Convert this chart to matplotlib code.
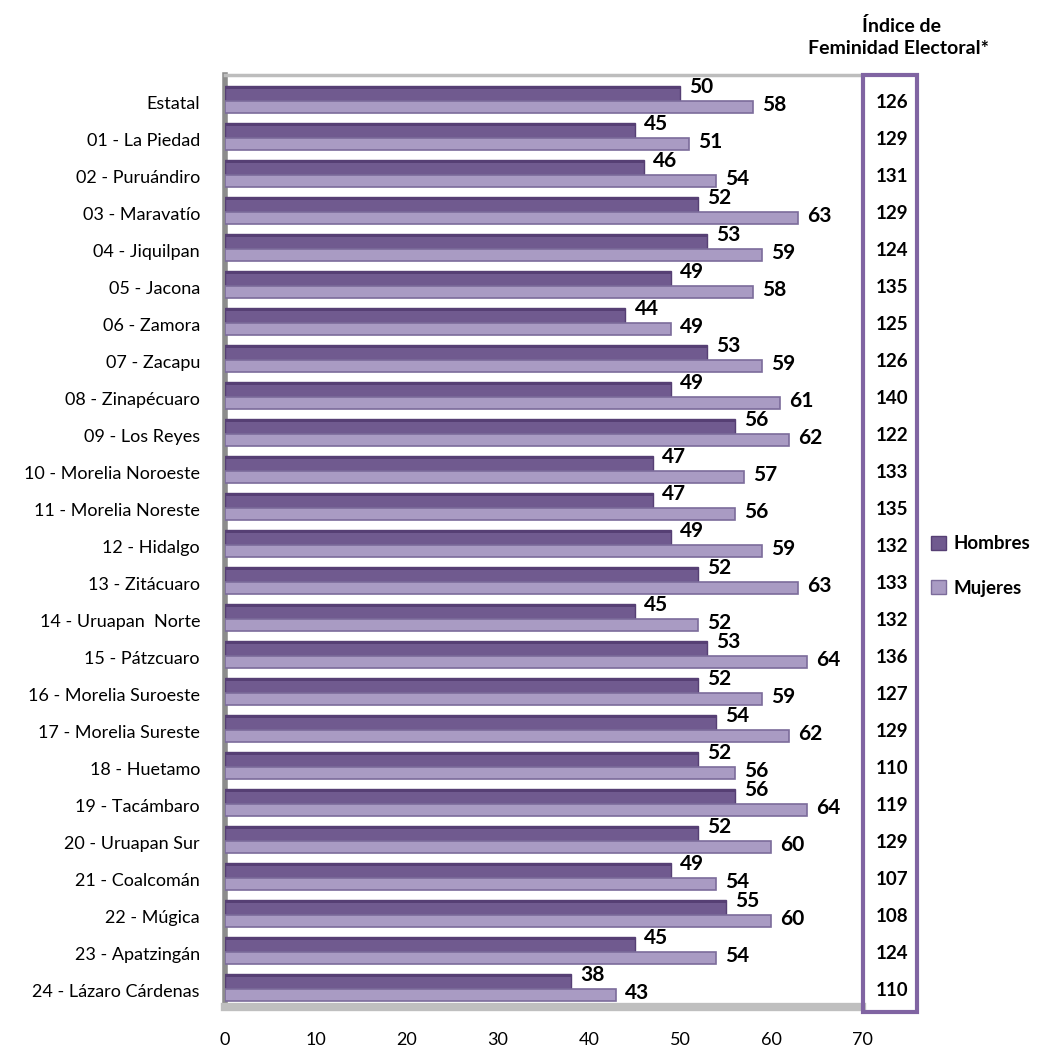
import numpy as np
import matplotlib
matplotlib.use("Agg")
import matplotlib.pyplot as plt
import matplotlib.transforms as mtransforms
from matplotlib.patches import Rectangle, Patch

plt.rcParams["font.family"] = ["Lato", "DejaVu Sans"]

distritos = ["Estatal", "01 - La Piedad", "02 - Puruándiro", "03 - Maravatío",
             "04 - Jiquilpan", "05 - Jacona", "06 - Zamora", "07 - Zacapu",
             "08 - Zinapécuaro", "09 - Los Reyes", "10 - Morelia Noroeste",
             "11 - Morelia Noreste", "12 - Hidalgo", "13 - Zitácuaro",
             "14 - Uruapan  Norte", "15 - Pátzcuaro", "16 - Morelia Suroeste",
             "17 - Morelia Sureste", "18 - Huetamo", "19 - Tacámbaro",
             "20 - Uruapan Sur", "21 - Coalcomán", "22 - Múgica",
             "23 - Apatzingán", "24 - Lázaro Cárdenas"]
hombres = [50, 45, 46, 52, 53, 49, 44, 53, 49, 56, 47, 47, 49, 52, 45, 53,
           52, 54, 52, 56, 52, 49, 55, 45, 38]
mujeres = [58, 51, 54, 63, 59, 58, 49, 59, 61, 62, 57, 56, 59, 63, 52, 64,
           59, 62, 56, 64, 60, 54, 60, 54, 43]
indice = [126, 129, 131, 129, 124, 135, 125, 126, 140, 122, 133, 135, 132,
          133, 132, 136, 127, 129, 110, 119, 129, 107, 108, 124, 110]
xticks = [0, 10, 20, 30, 40, 50, 60, 70]

c_h = "#705A8F"
c_h_dark = "#563F74"
c_m = "#A99BC3"
c_m_dark = "#7C6C9B"
purple_box = "#8064A2"

W, H = 1039, 1052
fig = plt.figure(figsize=(W / 100, H / 100), dpi=100)

# main plot area (pixel layout of the reference)
left, right, top, bottom = 225, 862, 75, 1007
ax = fig.add_axes([left / W, 1 - bottom / H, (right - left) / W, (bottom - top) / H])

y = np.arange(len(distritos))
yh = y - 0.24
ym = y + 0.135

ax.barh(yh, hombres, height=0.40, color=c_h, edgecolor=c_h_dark, linewidth=1.0, zorder=3)
ax.barh(yh - 0.15, hombres, height=0.10, color=c_h_dark, linewidth=0, zorder=4)
ax.barh(ym, mujeres, height=0.32, color=c_m, edgecolor=c_m_dark, linewidth=1.2, zorder=3)

for i in range(len(distritos)):
    ax.text(hombres[i] + 1.0, y[i] - 0.40, str(hombres[i]), fontsize=15,
            fontweight="bold", va="center", ha="left", zorder=5)
    ax.text(mujeres[i] + 1.0, y[i] + 0.08, str(mujeres[i]), fontsize=15,
            fontweight="bold", va="center", ha="left", zorder=5)

ax.set_xlim(0, 70)
ax.set_ylim(24 + 17 / 37, -27 / 37)
ax.set_xticks(xticks)
ax.set_xticklabels([str(t) for t in xticks], fontsize=13)
ax.set_yticks(y)
ax.set_yticklabels(distritos, fontsize=13)
ax.tick_params(axis="both", length=0)
ax.tick_params(axis="y", pad=18)
ax.tick_params(axis="x", pad=18)

ax.spines["right"].set_visible(False)
ax.spines["top"].set_color("#BDBDBD")
ax.spines["top"].set_linewidth(2.5)
ax.spines["left"].set_color("#8C8C8C")
ax.spines["left"].set_linewidth(4)
ax.spines["bottom"].set_color("#BFBFBF")
ax.spines["bottom"].set_linewidth(6)

# index box
bx0, bx1, by0, by1 = 863, 917, 75, 1012
fig.patches.append(Rectangle((bx0 / W, 1 - by1 / H), (bx1 - bx0) / W, (by1 - by0) / H,
                             transform=fig.transFigure, fill=False,
                             edgecolor=purple_box, linewidth=3))
trans = mtransforms.blended_transform_factory(fig.transFigure, ax.transData)
for i in range(len(distritos)):
    ax.text(892 / W, y[i], str(indice[i]), transform=trans, fontsize=13.5,
            fontweight="bold", ha="center", va="center", clip_on=False)

fig.text(902 / W, 1 - 26 / H, "Índice de", fontsize=14, fontweight="bold",
         ha="center", va="center")
fig.text(899 / W, 1 - 48 / H, "Feminidad Electoral*", fontsize=14, fontweight="bold",
         ha="center", va="center")

handles = [Patch(facecolor=c_h, edgecolor=c_h_dark, label="Hombres"),
           Patch(facecolor=c_m, edgecolor=c_m_dark, label="Mujeres")]
fig.legend(handles=handles, loc="center left", bbox_to_anchor=(920 / W, 1 - 566 / H),
           frameon=False, handlelength=0.8, handleheight=0.8, handletextpad=0.4,
           labelspacing=1.45, borderaxespad=0.2, prop={"size": 13.5, "weight": "bold"})

fig.savefig("out.png", dpi=100)
